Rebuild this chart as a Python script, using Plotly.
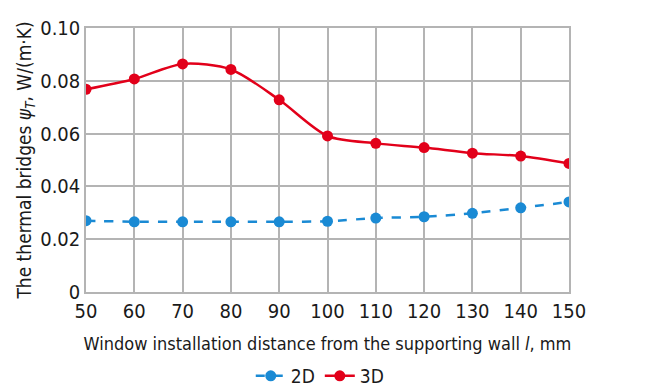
import plotly.graph_objects as go

x_mm = [50, 60, 70, 80, 90, 100, 110, 120, 130, 140, 150]
psi_2d = [0.0270, 0.0266, 0.0266, 0.0266, 0.0266, 0.0268, 0.0280, 0.0285, 0.0298, 0.0319, 0.0341]
psi_3d = [0.0768, 0.0807, 0.0864, 0.0843, 0.0728, 0.0591, 0.0563, 0.0547, 0.0526, 0.0515, 0.0487]
y_ticks = [0, 0.02, 0.04, 0.06, 0.08, 0.10]
y_ticktext = ["0", "0.02", "0.04", "0.06", "0.08", "0.10"]
x_ticks = x_mm

FONT = "DejaVu Sans Condensed, Roboto, sans-serif"
RED = "#e2001a"
BLUE = "#1a8ad4"
GRID = "#b4b4b4"

fig = go.Figure()
fig.add_trace(go.Scatter(
    x=x_mm, y=psi_2d, name="2D", mode="lines+markers",
    line=dict(color=BLUE, width=2.5, dash="dash", shape="spline", smoothing=0.6),
    marker=dict(color=BLUE, size=11),
))
fig.add_trace(go.Scatter(
    x=x_mm, y=psi_3d, name="3D", mode="lines+markers",
    line=dict(color=RED, width=2.5, shape="spline", smoothing=0.8),
    marker=dict(color=RED, size=11),
))

fig.update_layout(
    width=664, height=387,
    margin=dict(l=86, r=95, t=28, b=95, autoexpand=False),
    paper_bgcolor="white", plot_bgcolor="white",
    font=dict(family=FONT, size=19, color="#1a1a1a"),
    showlegend=True,
    legend=dict(orientation="h", x=0.485, xanchor="center", y=-0.318, yanchor="middle",
                font=dict(size=19), tracegroupgap=0),
    xaxis=dict(
        range=[50, 150], tickvals=x_ticks, showgrid=True, gridcolor=GRID, gridwidth=1.5,
        showline=True, linecolor=GRID, linewidth=1.5, mirror=True, zeroline=False,
        ticks="", tickfont=dict(size=20), automargin=False, ticklabelstandoff=0,
        title=dict(text="Window installation distance from the supporting wall <i>l</i>, mm",
                   font=dict(size=18), standoff=16),
    ),
    yaxis=dict(
        range=[0, 0.10], tickvals=y_ticks, ticktext=y_ticktext, showgrid=True,
        gridcolor=GRID, gridwidth=1.5, showline=True, linecolor=GRID, linewidth=1.5,
        mirror=True, zeroline=False, ticks="", tickfont=dict(size=20), automargin=False,
        title=dict(text="The thermal bridges <i>ψ<sub>T</sub></i>, W/(m·K)",
                   font=dict(size=19), standoff=4),
    ),
)

fig.write_html("out.html")
